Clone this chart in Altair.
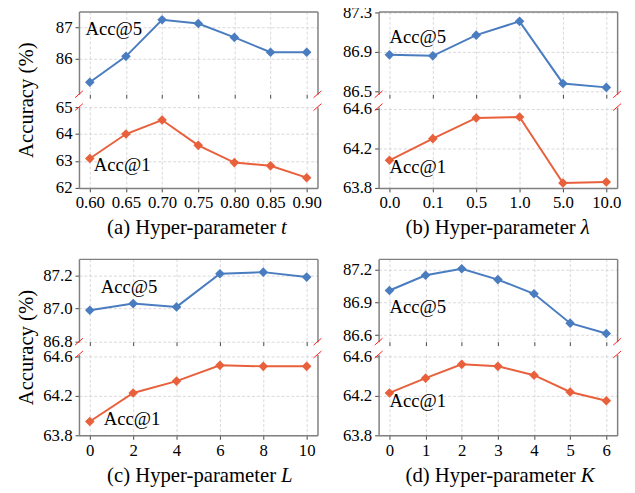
import altair as alt
import pandas as pd

FONT = "Liberation Serif"
BLUE = "#4a7cc0"
RED = "#e8603c"
W = 242
TOP_H = 84
BOT_H = 82

# ---- data ----
a_x = [0.60, 0.65, 0.70, 0.75, 0.80, 0.85, 0.90]
a_acc5 = [85.26, 86.08, 87.24, 87.12, 86.68, 86.21, 86.21]
a_acc1 = [63.09, 64.00, 64.52, 63.58, 62.94, 62.82, 62.38]

b_x = ["0.0", "0.1", "0.5", "1.0", "5.0", "10.0"]
b_acc5 = [86.87, 86.86, 87.07, 87.21, 86.58, 86.54]
b_acc1 = [64.08, 64.30, 64.51, 64.52, 63.85, 63.86]

c_x = [0, 2, 4, 6, 8, 10]
c_acc5 = [86.99, 87.03, 87.01, 87.21, 87.22, 87.19]
c_acc1 = [63.94, 64.23, 64.35, 64.51, 64.50, 64.50]

d_x = [0, 1, 2, 3, 4, 5, 6]
d_acc5 = [87.01, 87.15, 87.21, 87.11, 86.98, 86.71, 86.615]
d_acc1 = [64.23, 64.38, 64.52, 64.50, 64.41, 64.24, 64.15]

captions = ["(a) Hyper-parameter", "(b) Hyper-parameter", "(c) Hyper-parameter", "(d) Hyper-parameter"]
symbols = ["t", "λ", "L", "K"]


def x_enc(kind, xdomain, axis):
    if kind == "Q":
        return alt.X("x:Q", scale=alt.Scale(domain=xdomain, nice=False, zero=False), axis=axis)
    return alt.X("x:O", sort=xdomain, scale=alt.Scale(padding=0.25), axis=axis)


def subplot(kind, xs, ys, color, xdomain, xticks, xfmt, ydomain, yticks, yfmt,
            ann, label, is_top, ytitle, caption=None, symbol=None):
    H = TOP_H if is_top else BOT_H
    df = pd.DataFrame({"x": xs, "v": ys})
    yscale = alt.Scale(domain=ydomain, nice=False, zero=False)

    xa = dict(orient="bottom", grid=True, title=None, tickSize=4, labelAngle=0)
    if kind == "Q":
        xa["values"] = xticks
        xa["format"] = xfmt
    if is_top:
        xa.update(domain=False, labels=False)
    ya = dict(orient="left", grid=True, values=yticks, format=yfmt, tickSize=4)
    if ytitle:
        ya.update(title="Accuracy (%)", titleX=-53, titleY=(TOP_H + 13 + BOT_H) / 2,
                  titleAngle=270, titleAlign="center", titleBaseline="middle")
    else:
        ya["title"] = None

    main = alt.Chart(df).mark_line(
        color=color, strokeWidth=2,
        point=alt.OverlayMarkDef(shape="diamond", size=95, filled=True, color=color, opacity=1),
    ).encode(x=x_enc(kind, xdomain, alt.Axis(**xa)),
             y=alt.Y("v:Q", scale=yscale, axis=alt.Axis(**ya)))

    frame_x = alt.Axis(orient="top", domain=True, labels=False, ticks=False, grid=False, title=None) if is_top else None
    frame = alt.Chart(df).mark_point(opacity=0).encode(
        x=x_enc(kind, xdomain, frame_x),
        y=alt.Y("v:Q", scale=yscale,
                axis=alt.Axis(orient="right", domain=True, labels=False, ticks=False, grid=False, title=None)),
    )

    tdf = pd.DataFrame({"x": [ann[0]], "v": [ann[1]], "t": [label]})
    text = alt.Chart(tdf).mark_text(align="left", baseline="middle", font=FONT, fontSize=19,
                                    color="black").encode(
        x=x_enc(kind, xdomain, None), y=alt.Y("v:Q", scale=yscale, axis=None), text="t:N")

    one = pd.DataFrame({"k": [0]})
    yb = H if is_top else 0
    breaks = [
        alt.Chart(one).mark_rule(color="#ff2020", strokeWidth=1).encode(
            x=alt.value(xx - 4), x2=alt.value(xx + 4), y=alt.value(yb + 3.5), y2=alt.value(yb - 3.5))
        for xx in (0, W)
    ]
    layers = [main, frame, text] + breaks
    if caption is not None:
        layers.append(alt.Chart(one).mark_text(align="right", baseline="middle", font=FONT, fontSize=21,
                                               color="black").encode(
            x=alt.value(200), y=alt.value(BOT_H + 41), text=alt.value(caption)))
        layers.append(alt.Chart(one).mark_text(align="left", baseline="middle", font=FONT, fontSize=21,
                                               fontStyle="italic", color="black").encode(
            x=alt.value(205), y=alt.value(BOT_H + 41), text=alt.value(symbol)))
    return alt.layer(*layers).resolve_axis(x="independent", y="independent").properties(width=W, height=H)


def panel(kind, xs, acc5, acc1, xdomain, xticks, xfmt, d5, t5, f5, d1, t1, f1, ann5, ann1, ytitle, i):
    top = subplot(kind, xs, acc5, BLUE, xdomain, xticks, xfmt, d5, t5, f5, ann5, "Acc@5", True, ytitle)
    bot = subplot(kind, xs, acc1, RED, xdomain, xticks, xfmt, d1, t1, f1, ann1, "Acc@1", False, False,
                  captions[i], symbols[i])
    return alt.vconcat(top, bot, spacing=13, bounds="flush")


pa = panel("Q", a_x, a_acc5, a_acc1, [0.585, 0.915], a_x, ".2f",
           [84.88, 87.5], [86, 87], "d", [62, 65], [62, 63, 64, 65], "d",
           (0.594, 86.93), (0.6055, 62.86), True, 0)
pb = panel("O", b_x, b_acc5, b_acc1, b_x, None, None,
           [86.47, 87.31], [86.5, 86.9, 87.3], ".1f", [63.8, 64.62], [63.8, 64.2, 64.6], ".1f",
           ("0.0", 87.05), ("0.0", 64.01), False, 1)
pc = panel("Q", c_x, c_acc5, c_acc1, [-0.5, 10.5], c_x, "d",
           [86.8, 87.3], [86.8, 87.0, 87.2], ".1f", [63.8, 64.62], [63.8, 64.2, 64.6], ".1f",
           (0.5, 87.13), (0.64, 63.96), True, 2)
pd_ = panel("Q", d_x, d_acc5, d_acc1, [-0.3, 6.3], d_x, "d",
            [86.54, 87.3], [86.6, 86.9, 87.2], ".1f", [63.8, 64.62], [63.8, 64.2, 64.6], ".1f",
            (0.0, 86.855), (0.0, 64.15), False, 3)

row1 = alt.hconcat(pa, pb, spacing=20)
row2 = alt.hconcat(pc, pd_, spacing=20)

chart = alt.vconcat(row1, row2, spacing=21).properties(
    padding={"left": 8, "top": -8, "right": 5, "bottom": 5}
).configure_view(strokeWidth=0).configure_axis(
    labelFont=FONT, labelFontSize=17, labelColor="black", labelPadding=3,
    domainColor="#808080", domainWidth=1.5, tickColor="#444444", tickWidth=1,
    gridColor="#cfcfcf", gridDash=[3, 2], gridWidth=0.8,
    titleFont=FONT, titleFontSize=21, titleFontWeight="normal", titleColor="black",
)

chart.save("out.html", embed_options={"renderer": "svg", "actions": False})
